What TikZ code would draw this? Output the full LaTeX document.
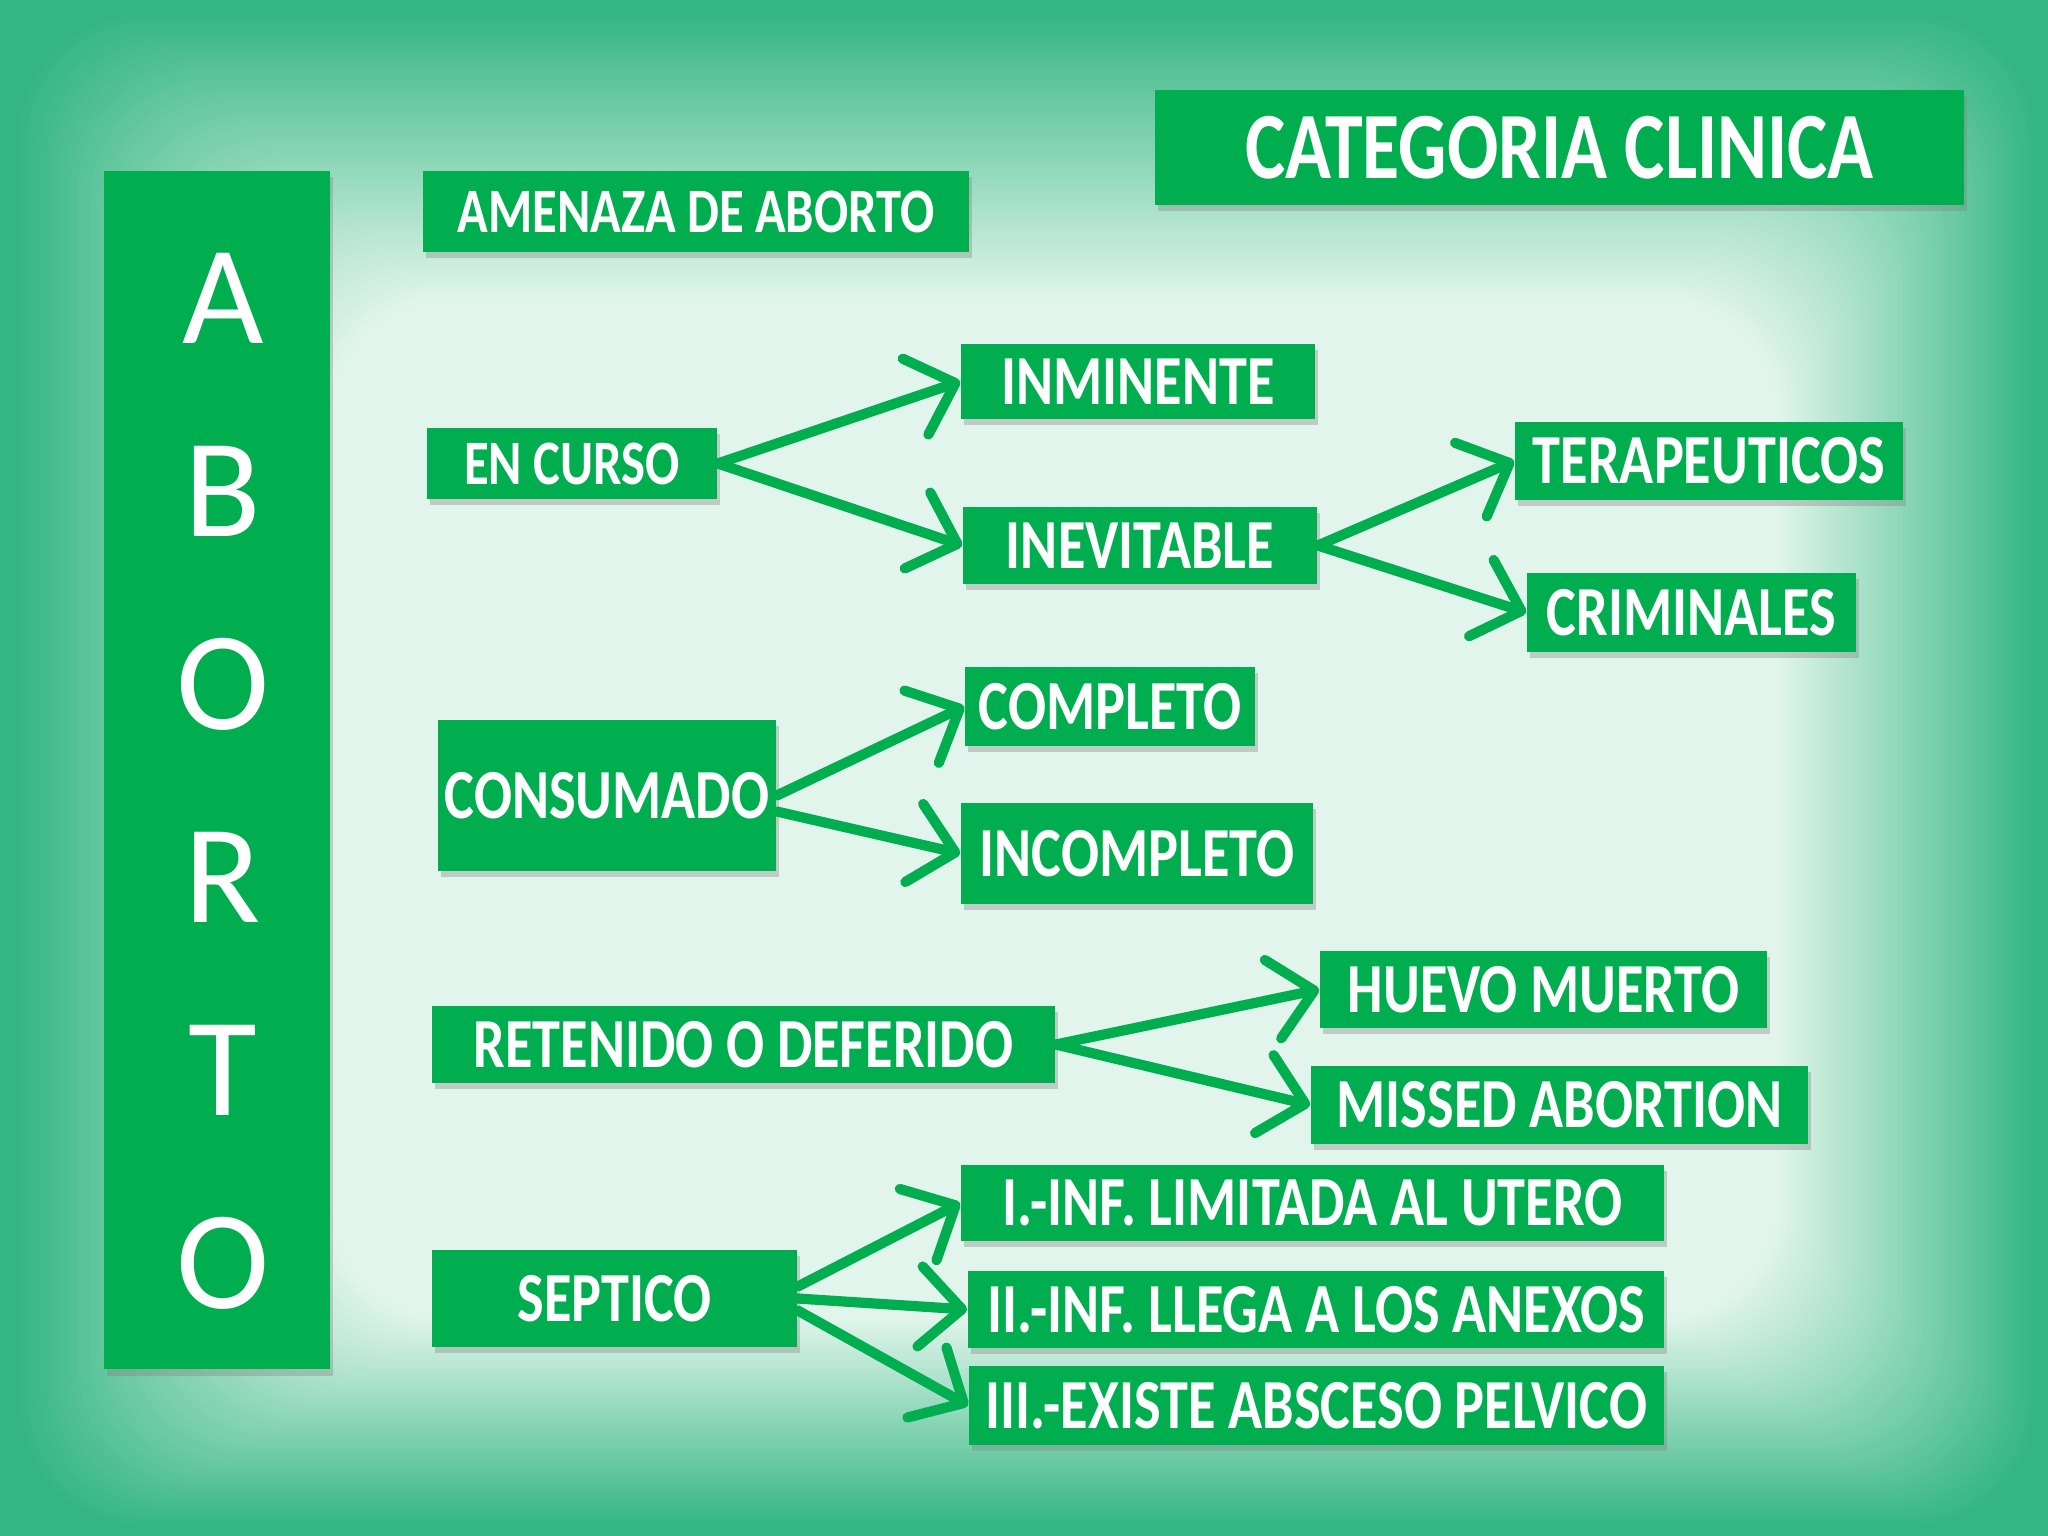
\documentclass[tikz,border=0pt]{standalone}
\usepackage{fontspec}
\setmainfont{Carlito}
\newfontfamily\cajafont[FakeStretch=0.8]{Carlito}
\usetikzlibrary{arrows.meta,shadows}
\definecolor{verdecaja}{RGB}{0,174,80}
\definecolor{verdeborde}{RGB}{52,182,130}
\definecolor{verdeclaro}{RGB}{226,245,236}
\begin{document}
\begin{tikzpicture}[x=0.01cm, y=-0.01cm,
    caja/.style={fill=verdecaja, text=white, inner sep=0pt,
        font=\cajafont\bfseries\fontsize{20}{24}\selectfont,
        drop shadow={shadow xshift=0.8pt, shadow yshift=-1.8pt, opacity=0.35}},
    chica/.style={font=\cajafont\bfseries\fontsize{18}{21}\selectfont},
    letra/.style={text=white, font=\fontsize{40}{48}\selectfont},
    flecha/.style={draw=verdecaja, line width=2.9pt, line cap=round,
        -{Straight Barb[length=4.2mm, width=8mm, round]}}]
    % Fondo con bordes verdes
    \useasboundingbox (0,0) rectangle (2048,1536);
    \fill[verdeborde] (0,0) rectangle (2048,1536);
    \foreach \k [evaluate=\k as \p using {int(2*\k)}] in {1,...,50}
        \fill[verdeclaro!\p!verdeborde, rounded corners=1.2cm] ({15+6.3*\k},{10+5.8*\k}) rectangle ({2038-5.2*\k},{1528-4.2*\k});
    % Columna ABORTO
    \node[caja, minimum width=2.26cm, minimum height=11.98cm] (aborto) at (217,770) {};
    \foreach \l [count=\i] in {A,B,O,R,T,O}
        \node[letra] (letra\i) at (223,{298+193*(\i-1)}) {\l};
    % Titulo
    \node[caja, minimum width=8.09cm, minimum height=1.15cm, font=\cajafont\bfseries\fontsize{27}{31}\selectfont] (categoria) at (1559.5,147.5) {CATEGORIA CLINICA};
    % Categorias
    \node[caja, chica, minimum width=5.46cm, minimum height=0.81cm] (amenaza) at (696,211.5) {AMENAZA DE ABORTO};
    \node[caja, chica, minimum width=2.90cm, minimum height=0.71cm] (encurso) at (572,463.5) {EN CURSO};
    \node[caja, minimum width=3.38cm, minimum height=1.51cm] (consumado) at (607,795.5) {CONSUMADO};
    \node[caja, minimum width=6.23cm, minimum height=0.77cm] (retenido) at (743.5,1044.5) {RETENIDO O DEFERIDO};
    \node[caja, minimum width=3.65cm, minimum height=0.97cm] (septico) at (614.5,1298.5) {SEPTICO};
    % Subtipos
    \node[caja, minimum width=3.54cm, minimum height=0.75cm] (inminente) at (1138,381.5) {INMINENTE};
    \node[caja, minimum width=3.54cm, minimum height=0.77cm] (inevitable) at (1140,545.5) {INEVITABLE};
    \node[caja, minimum width=3.88cm, minimum height=0.78cm] (terapeuticos) at (1709,461) {TERAPEUTICOS};
    \node[caja, minimum width=3.29cm, minimum height=0.79cm] (criminales) at (1691.5,612.5) {CRIMINALES};
    \node[caja, minimum width=2.90cm, minimum height=0.79cm] (completo) at (1110,706.5) {COMPLETO};
    \node[caja, minimum width=3.52cm, minimum height=1.01cm] (incompleto) at (1137,853.5) {INCOMPLETO};
    \node[caja, minimum width=4.47cm, minimum height=0.77cm] (huevo) at (1543.5,989.5) {HUEVO MUERTO};
    \node[caja, minimum width=4.97cm, minimum height=0.78cm] (missed) at (1559.5,1105) {MISSED ABORTION};
    \node[caja, minimum width=7.03cm, minimum height=0.76cm] (infuno) at (1312.5,1203) {I.-INF. LIMITADA AL UTERO};
    \node[caja, minimum width=6.96cm, minimum height=0.77cm] (infdos) at (1316,1309.5) {II.-INF. LLEGA A LOS ANEXOS};
    \node[caja, minimum width=6.95cm, minimum height=0.79cm] (inftres) at (1316.5,1405.5) {III.-EXISTE ABSCESO PELVICO};
    % Flechas
    \draw[flecha] (encurso.east) -- (inminente.west);
    \draw[flecha] (encurso.east) -- (inevitable.west);
    \draw[flecha] (inevitable.east) -- (terapeuticos.west);
    \draw[flecha] (inevitable.east) -- (criminales.west);
    \draw[flecha] (consumado.east) -- (completo.west);
    \draw[flecha] ([yshift=-0.16cm]consumado.east) -- (incompleto.west);
    \draw[flecha] (retenido.east) -- (huevo.west);
    \draw[flecha] (retenido.east) -- (missed.west);
    \draw[flecha] ([yshift=0.12cm]septico.east) -- (infuno.west);
    \draw[flecha] (septico.east) -- (infdos.west);
    \draw[flecha] ([yshift=-0.12cm]septico.east) -- (inftres.west);
\end{tikzpicture}
\end{document}
